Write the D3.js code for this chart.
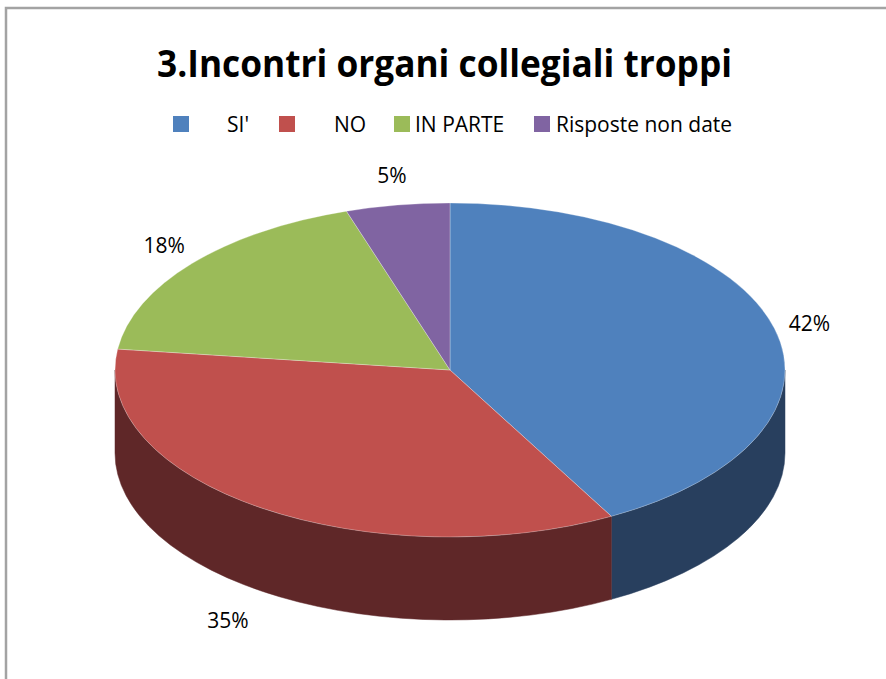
<!DOCTYPE html>
<html>
<head>
<meta charset="utf-8">
<script src="https://cdn.jsdelivr.net/npm/d3@7"></script>
<style>
  body { margin: 0; background: #fff; }
  text { font-family: "Open Sans", "DejaVu Sans", sans-serif; fill: #000; }
</style>
</head>
<body>
<div id="chart"></div>
<script>
// dati del grafico
const categories = ["SI'", "NO", "IN PARTE", "Risposte non date"];
const values = [42, 35, 18, 5];
const labels = ["42%", "35%", "18%", "5%"];
const colors = ["#4F81BD", "#C0504D", "#9BBB59", "#8064A2"];
const sideColors = ["#283F5E", "#5F2728", "#5C7033", "#4B3A60"];
const title = "3.Incontri organi collegiali troppi";

const width = 886, height = 679;
const cx = 450, cy = 370, rx = 335, ry = 167, depth = 83;

const svg = d3.select("#chart").append("svg")
    .attr("width", width)
    .attr("height", height);

// cornice del grafico
svg.append("path")
    .attr("d", `M6,${height} L6,8 L${width},8`)
    .attr("fill", "none")
    .attr("stroke", "#a3a3a3")
    .attr("stroke-width", 2.5);

// titolo
svg.append("text")
    .attr("x", 157)
    .attr("y", 77)
    .attr("font-size", 38)
    .attr("font-weight", "bold")
    .attr("textLength", 575)
    .attr("lengthAdjust", "spacingAndGlyphs")
    .text(title);

// legenda (posizioni come nell'originale)
const legendSquareX = [173, 279, 394, 534];
const legendTextX = [227, 334, 415, 556];
const legend = svg.append("g").attr("class", "legend");
categories.forEach((c, i) => {
    legend.append("rect")
        .attr("x", legendSquareX[i])
        .attr("y", 116)
        .attr("width", 16)
        .attr("height", 16)
        .attr("fill", colors[i]);
    legend.append("text")
        .attr("x", legendTextX[i])
        .attr("y", 132)
        .attr("font-size", 21)
        .text(c);
});

// torta
const pie = d3.pie().sort(null).startAngle(0).endAngle(2 * Math.PI);
const arcs = pie(values);

// punto sull'ellisse per un angolo (0 = in alto, senso orario)
const pt = (a, dy = 0) => [cx + rx * Math.sin(a), cy - ry * Math.cos(a) + dy];

// pareti laterali (solo la metà frontale, da 90° a 270°)
const sides = svg.append("g").attr("class", "sides");
arcs.forEach((d, i) => {
    const a0 = Math.max(d.startAngle, Math.PI / 2);
    const a1 = Math.min(d.endAngle, 3 * Math.PI / 2);
    if (a1 <= a0) return;
    const p0 = pt(a0), p1 = pt(a1);
    const q0 = pt(a0, depth), q1 = pt(a1, depth);
    const large = (a1 - a0) > Math.PI ? 1 : 0;
    const path = `M${p0[0]},${p0[1]} A${rx},${ry} 0 ${large} 1 ${p1[0]},${p1[1]}` +
        ` L${q1[0]},${q1[1]} A${rx},${ry} 0 ${large} 0 ${q0[0]},${q0[1]} Z`;
    sides.append("path")
        .attr("d", path)
        .attr("fill", sideColors[i])
        .attr("stroke", sideColors[i])
        .attr("stroke-width", 0.5);
});

// faccia superiore
const arc = d3.arc().innerRadius(0).outerRadius(rx);
svg.append("g")
    .attr("transform", `translate(${cx},${cy}) scale(1,${ry / rx})`)
    .selectAll("path")
    .data(arcs)
    .enter()
    .append("path")
    .attr("d", arc)
    .attr("fill", (d, i) => colors[i])
    .attr("stroke", "rgba(255,255,255,0.35)")
    .attr("stroke-width", 0.8)
    .attr("vector-effect", "non-scaling-stroke");

// etichette percentuali
arcs.forEach((d, i) => {
    const m = (d.startAngle + d.endAngle) / 2;
    const isFront = Math.cos(m) < 0;
    const p = pt(m, isFront ? depth : 0);
    const offX = isFront ? 60 : 36;
    svg.append("text")
        .attr("x", p[0] + offX * Math.sin(m))
        .attr("y", p[1] - 32 * Math.cos(m) + 10)
        .attr("text-anchor", "middle")
        .attr("font-size", 21)
        .text(labels[i]);
});
</script>
</body>
</html>
